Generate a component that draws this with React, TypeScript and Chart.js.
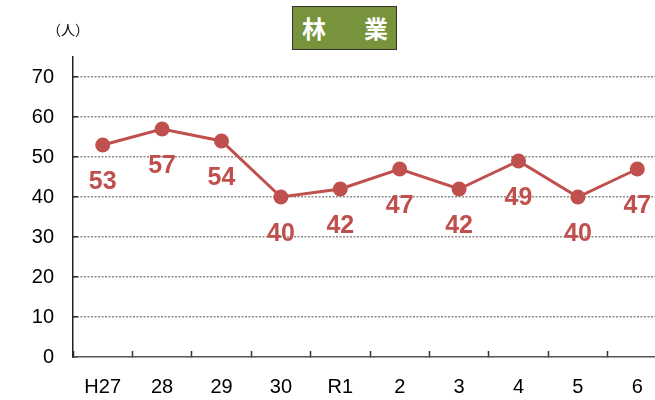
import React, { useEffect, useRef } from "react";
import { Chart, registerables } from "chart.js";

Chart.register(...registerables);

const categories = ["H27", "28", "29", "30", "R1", "2", "3", "4", "5", "6"];
const values = [53, 57, 54, 40, 42, 47, 42, 49, 40, 47];
const yTickValues = [0, 10, 20, 30, 40, 50, 60, 70];
const titleText = "林　業";
const unitText = "（人）";

const RED = "#c0504d";

const pointLabelPlugin = {
  id: "pointLabels",
  afterDatasetsDraw(chart: any) {
    const ctx = chart.ctx;
    const meta = chart.getDatasetMeta(0);
    const data = chart.data.datasets[0].data as number[];
    ctx.save();
    ctx.font = "bold 25px 'Liberation Sans', Arial, sans-serif";
    ctx.fillStyle = RED;
    ctx.textAlign = "center";
    ctx.textBaseline = "middle";
    meta.data.forEach((el: any, i: number) => {
      ctx.fillText(String(data[i]), el.x, el.y + 37);
    });
    ctx.restore();
  },
};

export default function App() {
  const canvasRef = useRef<HTMLCanvasElement | null>(null);

  useEffect(() => {
    if (!canvasRef.current) return;
    const chart = new Chart(canvasRef.current, {
      type: "line",
      data: {
        labels: categories,
        datasets: [
          {
            data: values,
            borderColor: RED,
            backgroundColor: RED,
            borderWidth: 3,
            pointRadius: 7.5,
            pointBackgroundColor: RED,
            pointBorderColor: RED,
            pointBorderWidth: 0,
            tension: 0,
          },
        ],
      },
      options: {
        responsive: false,
        animation: false,
        devicePixelRatio: 1,
        layout: { padding: { left: 0, top: 57, right: 13, bottom: 0 } },
        plugins: {
          legend: { display: false },
          tooltip: { enabled: false },
          title: { display: false },
        },
        scales: {
          x: {
            type: "category",
            offset: true,
            grid: {
              offset: true,
              drawOnChartArea: false,
              drawTicks: true,
              tickLength: -6,
              tickColor: "#333",
              tickWidth: 1.5,
            },
            border: { display: true, color: "#555", width: 1.5 },
            ticks: {
              color: "#000",
              padding: 24,
              font: { family: "'Liberation Sans', Arial, sans-serif", size: 20 },
              maxRotation: 0,
              autoSkip: false,
            },
            afterFit(scale: any) {
              scale.height = 43;
            },
          },
          y: {
            min: 0,
            max: 75,
            ticks: {
              stepSize: 10,
              color: "#000",
              padding: 24,
              font: { family: "'Liberation Sans', Arial, sans-serif", size: 20 },
            },
            afterBuildTicks(scale: any) {
              scale.ticks = yTickValues.map((v) => ({ value: v }));
            },
            grid: {
              color: (c: any) => (c.tick && c.tick.value === 0 ? "rgba(0,0,0,0)" : "#8c8c8c"),
              lineWidth: 1.6,
              drawTicks: true,
              tickLength: -5,
              tickColor: "#333",
              tickWidth: 1.5,
              tickBorderDash: [],
            },
            border: { display: true, color: "#222", width: 1.5, dash: [2, 1.5] },
            afterFit(scale: any) {
              scale.width = 73;
            },
          },
        },
      } as any,
      plugins: [pointLabelPlugin],
    });
    return () => chart.destroy();
  }, []);

  return (
    <div
      style={{
        position: "fixed",
        left: 0,
        top: 0,
        width: 655,
        height: 400,
        overflow: "hidden",
        background: "#fff",
      }}
    >
      <canvas
        ref={canvasRef}
        width={680}
        height={400}
        style={{ position: "absolute", left: 0, top: 0, width: 680, height: 400 }}
      />
      <div
        style={{
          position: "absolute",
          left: 47,
          top: 18,
          fontFamily: "'Noto Sans CJK JP', sans-serif",
          fontSize: 14,
          lineHeight: "22px",
          color: "#000",
          whiteSpace: "nowrap",
        }}
      >
        {unitText}
      </div>
      <div
        style={{
          position: "absolute",
          left: 292,
          top: 6,
          width: 105,
          height: 44,
          boxSizing: "border-box",
          background: "#77933c",
          border: "1px solid #333",
          color: "#fff",
          fontFamily: "'Noto Sans CJK JP', sans-serif",
          fontWeight: 700,
          fontSize: 24,
          lineHeight: "42px",
          paddingLeft: 9,
          letterSpacing: 7,
          whiteSpace: "nowrap",
        }}
      >
        {titleText}
      </div>
    </div>
  );
}
